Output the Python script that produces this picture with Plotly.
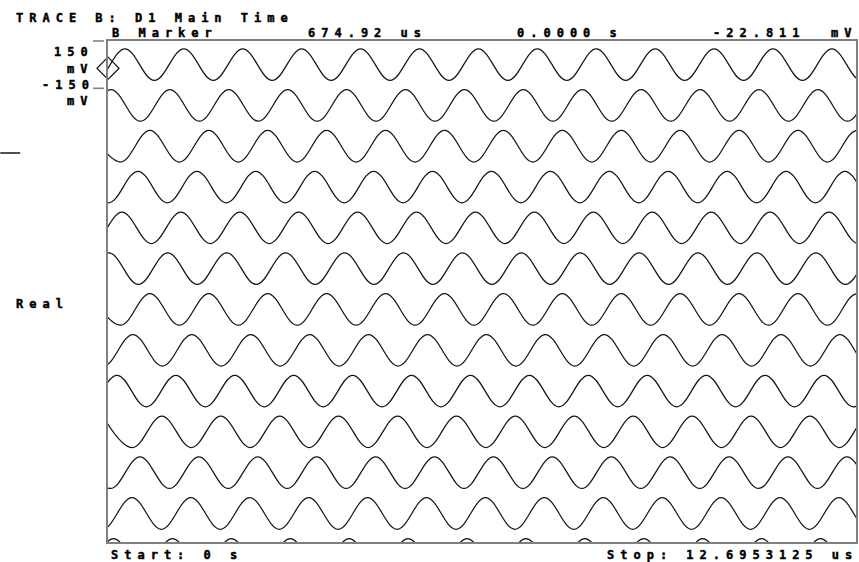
import plotly.graph_objects as go

# ---------------- data ----------------
start_us = 0.0
stop_us = 12.6953125
period_us = 1.0            # ~59 px per cycle across the 12.695 us span
amplitude_mv = 100.0       # ~200 mV peak-to-peak on the 150/-150 mV scale
row_offset_mv = 258.8      # vertical step between the stacked time records
# time of the first positive peak of each stacked record (top to bottom)
first_peak_us = [0.287, 0.050, 0.711, 0.508, 0.237, 0.015, 0.711,
                 0.423, 0.152, 0.914, 0.542, 0.406, 0.093]
marker_time_us = 0.0
marker_value_mv = -22.811
scale_ticks_mv = [150, -150]

# ---------------- layout constants (pixels) ----------------
W, H = 859, 562
L, R, T, B = 108, 1, 41, 20
PW, PH = W - L - R, H - T - B
px_per_mv = 47.3 / 300.0
y_max = 150.0
y_min = y_max - PH / px_per_mv

def xp(px):
    return (px - L) / PW

def yp(py):
    return (H - B - py) / PH

fig = go.Figure()

# stacked records: each drawn as a smooth line through its peaks and troughs
half = period_us / 2.0
for i, fp in enumerate(first_peak_us):
    base = -i * row_offset_mv
    xs, ys = [], []
    k = -2
    while True:
        t = fp + k * half
        xs.append(t)
        ys.append(base + (amplitude_mv if k % 2 == 0 else -amplitude_mv))
        if t > stop_us + period_us:
            break
        k += 1
    fig.add_trace(go.Scatter(
        x=xs, y=ys, mode="lines",
        line=dict(color="#141414", width=1.25, shape="spline", smoothing=1.1),
        hoverinfo="skip", showlegend=False))

# marker
fig.add_trace(go.Scatter(
    x=[marker_time_us], y=[marker_value_mv], mode="markers",
    marker=dict(symbol="diamond-open", size=17, color="#141414",
                line=dict(color="#141414", width=1.2)),
    cliponaxis=False, showlegend=False, hoverinfo="skip"))

frame = dict(showline=True, mirror=True, linecolor="#808080", linewidth=1.6,
             showgrid=False, zeroline=False, showticklabels=False, ticks="")
fig.update_xaxes(range=[start_us, stop_us], **frame)
fig.update_yaxes(range=[y_min, y_max], **frame)

shapes = []
for v in scale_ticks_mv:
    yv = (v - y_min) / (y_max - y_min)
    shapes.append(dict(type="line", xref="paper", yref="paper",
                       x0=xp(93), x1=xp(104), y0=yv, y1=yv,
                       line=dict(color="#808080", width=1.6)))
shapes.append(dict(type="line", xref="paper", yref="paper",
                   x0=xp(0), x1=xp(20), y0=yp(153), y1=yp(153),
                   line=dict(color="#141414", width=1.5)))

texts = [
    ("TRACE B: D1 Main Time", 14, 18),
    ("B Marker", 110, 33.5),
    ("674.92 us", 307, 33.5),
    ("0.0000 s", 516, 33.5),
    ("-22.811", 713, 33.5),
    ("mV", 831, 33.5),
    ("150", 52, 52),
    ("mV", 65, 68.5),
    ("-150", 40, 85),
    ("mV", 65, 101.5),
    ("Real", 14, 303.5),
    ("Start: 0 s", 109, 554.5),
    ("Stop: 12.6953125 us", 606, 554.5),
]
annotations = []
for txt, x, y in texts:
    annotations.append(dict(
        text=txt, xref="paper", yref="paper", x=xp(x), y=yp(y),
        xanchor="left", yanchor="middle", align="left", showarrow=False,
        font=dict(family="DejaVu Sans Mono", size=12, color="#000000",
                  weight="bold")))

fig.update_layout(
    width=W, height=H,
    margin=dict(l=L, r=R, t=T, b=B, pad=0),
    paper_bgcolor="white", plot_bgcolor="white",
    showlegend=False, shapes=shapes, annotations=annotations,
    font=dict(family="DejaVu Sans Mono", size=12, color="#000000"),
)

post = ("document.querySelectorAll('.annotation-text').forEach(function(t){"
        "t.style.letterSpacing='6px';t.style.stroke='#000';"
        "t.style.strokeWidth='0.45px';});")
fig.write_html("out.html", post_script=post, config={"displayModeBar": False})
